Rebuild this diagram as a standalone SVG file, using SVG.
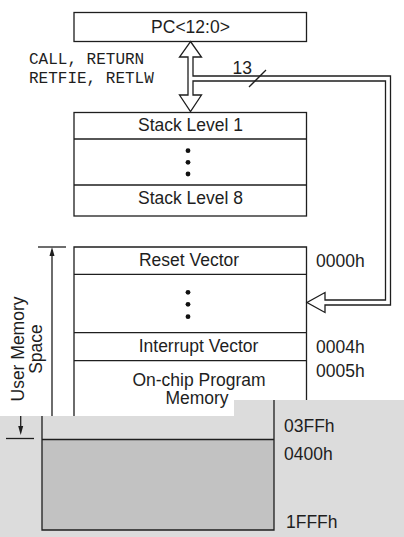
<svg xmlns="http://www.w3.org/2000/svg" width="404" height="537" viewBox="0 0 404 537">
<style>
.ln{fill:none;stroke:#1e1e1e;stroke-width:1.3}
.bx{fill:#fff;stroke:#1e1e1e;stroke-width:1.3}
.t{font-family:"Liberation Sans",Arial,sans-serif;font-size:17.5px;fill:#1e1e1e}
.m{font-family:"Liberation Mono","Courier New",monospace;font-size:16px;fill:#1e1e1e}
.c{text-anchor:middle}
.dot{fill:#111}
.ah{fill:#1e1e1e}
</style>
<rect width="404" height="537" fill="#fff"/>
<g id="pc">
<rect class="bx" x="74" y="12.5" width="232.5" height="29"/>
<text class="t c" x="190.5" y="33">PC&lt;12:0&gt;</text>
</g>
<g id="stack">
<rect class="bx" x="74" y="112.5" width="232.5" height="103.5"/>
<line class="ln" x1="74" y1="139" x2="306.5" y2="139"/>
<line class="ln" x1="74" y1="185" x2="306.5" y2="185"/>
<text class="t c" x="190.5" y="131">Stack Level 1</text>
<circle class="dot" cx="188" cy="150.7" r="2.4"/>
<circle class="dot" cx="188" cy="162.3" r="2.4"/>
<circle class="dot" cx="188" cy="174" r="2.4"/>
<text class="t c" x="190.5" y="204">Stack Level 8</text>
</g>
<g id="labels">
<text class="m" x="29" y="64">CALL, RETURN</text>
<text class="m" x="29" y="82.5">RETFIE, RETLW</text>
<text class="t" x="232.5" y="74" style="font-size:17.5px">13</text>
</g>
<g id="memory">
<path class="ln" d="M74,416 V247 H306.5 V400"/>
<line class="ln" x1="74" y1="274.3" x2="306.5" y2="274.3"/>
<line class="ln" x1="74" y1="332.7" x2="306.5" y2="332.7"/>
<line class="ln" x1="74" y1="360.7" x2="306.5" y2="360.7"/>
<text class="t c" x="189" y="266">Reset Vector</text>
<circle class="dot" cx="188" cy="292.3" r="2.4"/>
<circle class="dot" cx="188" cy="304.3" r="2.4"/>
<circle class="dot" cx="188" cy="316.7" r="2.4"/>
<text class="t c" x="198.5" y="352">Interrupt Vector</text>
<text class="t c" x="199" y="385.7">On-chip Program</text>
<text class="t c" x="197" y="404">Memory</text>
<text class="t" x="316" y="267.3">0000h</text>
<text class="t" x="316" y="353">0004h</text>
<text class="t" x="316" y="377">0005h</text>
</g>
<g id="dimension">
<line class="ln" x1="38" y1="247" x2="66" y2="247"/>
<line class="ln" x1="52" y1="250" x2="52" y2="416"/>
<path class="ah" d="M52,247 L54.5,256 H49.5 Z"/>
<text class="t c" transform="translate(23.5,349) rotate(-90)">User Memory</text>
<text class="t c" transform="translate(42,349) rotate(-90)">Space</text>
</g>
<g id="memory-lower">
<path d="M0,416 H234 V400 H404 V537 H0 Z" fill="#dcdcdc"/>
<rect x="42" y="439.5" width="232" height="90.5" fill="#c2c2c2"/>
<path class="ln" d="M42,416 V530 H274 V400"/>
<line class="ln" x1="42" y1="439.5" x2="274" y2="439.5"/>
<line class="ln" x1="20.7" y1="416" x2="20.7" y2="428"/>
<path class="ah" d="M20.7,435 L23.2,426 H18.2 Z"/>
<line class="ln" x1="6" y1="438.5" x2="34" y2="438.5"/>
<text class="t" x="284" y="432">03FFh</text>
<text class="t" x="284" y="460">0400h</text>
<text class="t" x="286" y="527.5">1FFFh</text>
</g>
<g id="connectors">
<path class="bx" d="M190.5,41.5 L201.5,57 H193 V76 H390.5 V305 H325 V312.5 L307,302.5 L325,292.5 V300 H385.5 V81 H193 V95 H201.5 L190.5,111.5 L179.5,95 H188 V57 H179.5 Z"/>
<line class="ln" x1="249" y1="87" x2="266" y2="70"/>
</g>
</svg>
